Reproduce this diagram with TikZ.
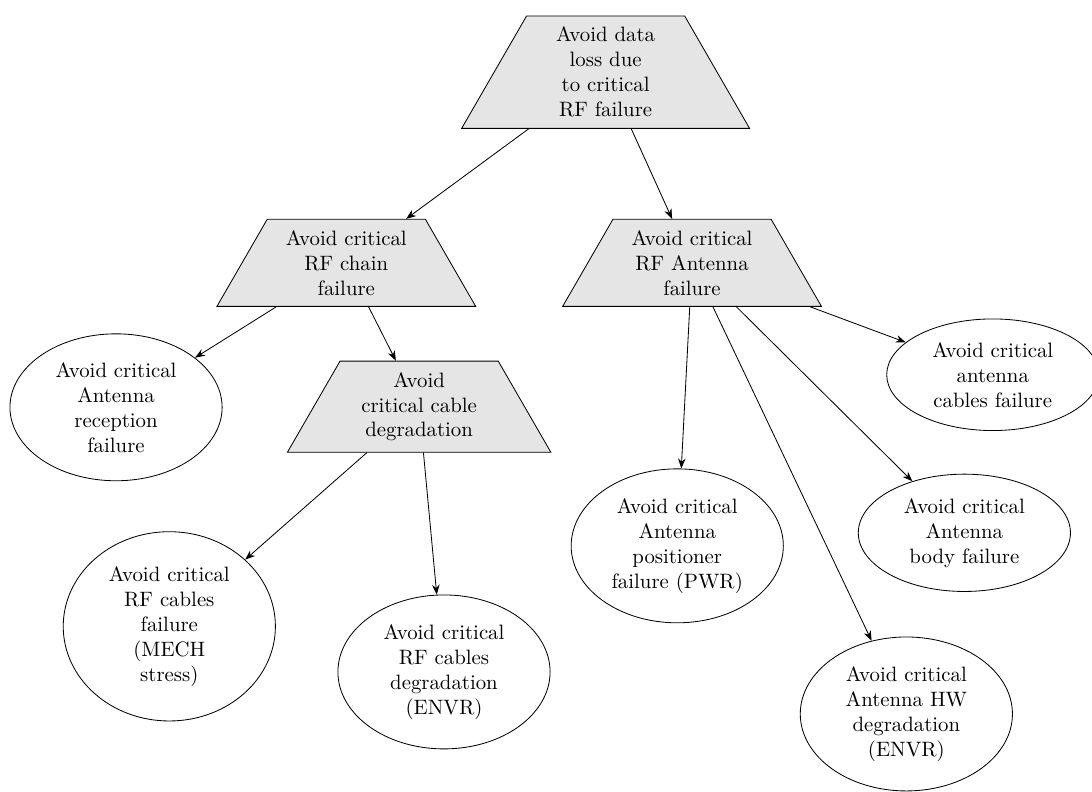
\documentclass[tikz,border=0pt]{standalone}
\usepackage{tikz}
\usetikzlibrary{arrows.meta,shapes.geometric}

\begin{document}
\begin{tikzpicture}[
  goal/.style={draw, trapezium, fill=black!10, align=center, text width=2.3cm,
    inner sep=5.3pt},
  leaf/.style={draw, ellipse, align=center, text width=2.3cm},
  arr/.style={-{Stealth}}
]
\useasboundingbox (0,0) rectangle (18.446,-13.378);

% ---------- Goals ----------
\node[goal] (top) at (10.23,-1.22) {Avoid data\\ loss due\\ to critical\\ RF failure};
\node[goal] (chain) at (5.85,-4.44) {Avoid critical\\ RF chain\\ failure};
\node[goal] (ant) at (11.69,-4.44) {Avoid critical\\ RF Antenna\\ failure};
\node[goal] (cable) at (7.08,-6.87) {Avoid\\ critical cable\\ degradation};

% ---------- Leaves ----------
\node[leaf] (recep) at (1.96,-6.88) {Avoid critical\\ Antenna\\ reception\\ failure};
\node[leaf] (mech) at (2.86,-10.58) {Avoid critical\\ RF cables\\ failure\\ (MECH\\ stress)};
\node[leaf] (envr) at (7.50,-11.35) {Avoid critical\\ RF cables\\ degradation\\ (ENVR)};
\node[leaf] (pos) at (11.44,-9.22) {Avoid critical\\ Antenna\\ positioner\\ failure (PWR)};
\node[leaf] (body) at (16.29,-9.00) {Avoid critical\\ Antenna\\ body failure};
\node[leaf] (acab) at (16.77,-6.33) {Avoid critical\\ antenna\\ cables failure};
\node[leaf] (hw) at (15.31,-12.06) {Avoid critical\\ Antenna HW\\ degradation\\ (ENVR)};

% ---------- Refinements ----------
\draw[arr] (top) -- (chain);
\draw[arr] (top) -- (ant);
\draw[arr] (chain) -- (recep);
\draw[arr] (chain) -- (cable);
\draw[arr] (cable) -- (mech);
\draw[arr] (cable) -- (envr);
\draw[arr] (ant) -- (pos);
\draw[arr] (ant) -- (hw);
\draw[arr] (ant) -- (body);
\draw[arr] (ant) -- (acab);
\end{tikzpicture}
\end{document}
